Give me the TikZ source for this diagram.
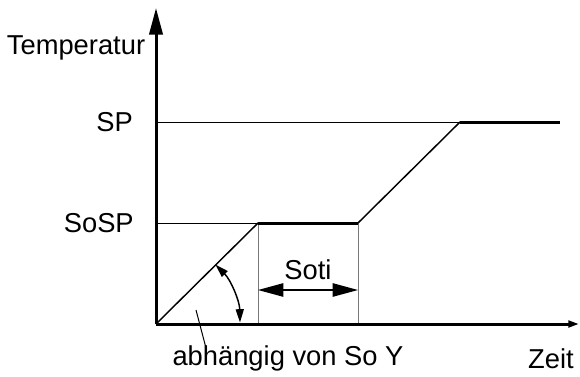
\documentclass[tikz,border=0pt]{standalone}
\usepackage{fontspec}
\setmainfont{Liberation Sans}
\usepackage{tikz}
\usetikzlibrary{arrows.meta}
\definecolor{guidegray}{RGB}{120,120,120}

\tikzset{
    lbl/.style={inner sep=0pt, font=\fontsize{20.5}{24}\selectfont},
    axis/.style={line width=2.25pt},
    level/.style={line width=2.25pt},
    ramp/.style={line width=1.1pt},
    guide/.style={line width=0.75pt},
}

\begin{document}
\begin{tikzpicture}[x=0.75pt, y=0.75pt]
    \useasboundingbox (-156,-52) rectangle (424,324);
    % key points of the curve
    \coordinate (O) at (0,0);
    \coordinate (sosp0) at (102,101);
    \coordinate (sosp1) at (202,101);
    \coordinate (sp0) at (304,202);
    \coordinate (sp1) at (404,202);
    % guide lines
    \draw[guide] (0,202) -- (sp0);
    \draw[guide] (0,101) -- (sosp0);
    \draw[guide, guidegray] (102,0) -- (sosp0);
    \draw[guide, guidegray] (202,0) -- (sosp1);
    % axes
    \draw[axis, -{Triangle[length=20pt, width=10pt]}] (O) -- (0,316);
    \draw[axis, -{Triangle[length=8pt, width=5pt]}] (O) -- (423,0);
    % temperature curve
    \draw[ramp] (O) -- (sosp0);
    \draw[level] (sosp0) -- (sosp1);
    \draw[ramp] (sosp1) -- (sp0);
    \draw[level] (sp0) -- (sp1);
    % soak time
    \coordinate (sotiL) at (102,34);
    \coordinate (sotiR) at (202,34);
    \draw[ramp, {Triangle[length=19pt, width=10pt]}-{Triangle[length=19pt, width=10pt]}] (sotiL) -- (sotiR);
    \node[lbl] (soti) at (152,54) {Soti};
    % ramp angle
    \draw[ramp, {Triangle[length=10pt, width=6pt]}-{Triangle[length=10pt, width=6pt]}] (45:84) arc[start angle=45, end angle=1, radius=84];
    \coordinate (angle) at (40,14);
    \node[lbl] (soy) at (132,-34) {abhängig von So Y};
    \draw[guide] (angle) -- (50,-24);
    % axis labels
    \node[lbl] (temp) at (-80,276) {Temperatur};
    \node[lbl] (zeit) at (395,-35) {Zeit};
    \node[lbl, anchor=east] (sp) at (-23,202) {SP};
    \node[lbl, anchor=east] (sosp) at (-22,101) {SoSP};
\end{tikzpicture}
\end{document}
